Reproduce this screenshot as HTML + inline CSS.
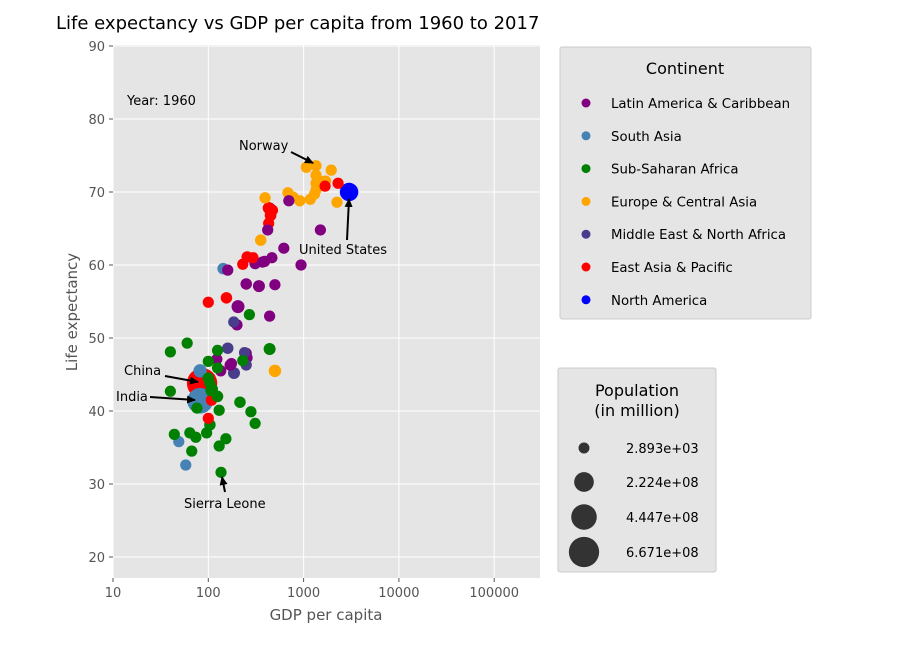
<!DOCTYPE html>
<html><head><meta charset="utf-8"><style>
body{margin:0;background:#fff;font-family:"Liberation Sans","DejaVu Sans",sans-serif}
text{font-family:"DejaVu Sans","Liberation Sans",sans-serif}
</style></head><body>
<svg id="chart" width="900" height="650" viewBox="0 0 900 650" xmlns="http://www.w3.org/2000/svg">
<rect width="900" height="650" fill="#fff"/>
<text x="56" y="29" font-size="18" fill="#000">Life expectancy vs GDP per capita from 1960 to 2017</text>
<rect x="113" y="45" width="427" height="533" fill="#e5e5e5"/>
<g id="grid"></g><g id="ticks"></g><g id="marks"></g><g id="annots"></g>
<text x="127" y="105" font-size="13" fill="#000">Year: 1960</text>
<text x="326" y="620" font-size="15" fill="#555" text-anchor="middle">GDP per capita</text>
<text x="77" y="312" font-size="15" fill="#555" text-anchor="middle" transform="rotate(-90 77 312)">Life expectancy</text>
<g id="leg1">
<rect x="560" y="47" width="251" height="272" fill="#e5e5e5" stroke="#ccc" rx="2"/>
<text x="685" y="74" font-size="16" text-anchor="middle">Continent</text>
</g>
<g id="leg2">
<rect x="558" y="368" width="158" height="204" fill="#e5e5e5" stroke="#ccc" rx="2"/>
<text x="637" y="396" font-size="16" text-anchor="middle">Population</text>
<text x="637" y="416" font-size="16" text-anchor="middle">(in million)</text>
</g>
</svg>
<script>
const continents=["Latin America & Caribbean","South Asia","Sub-Saharan Africa","Europe & Central Asia","Middle East & North Africa","East Asia & Pacific","North America"];
const colors=["purple","steelblue","green","orange","darkslateblue","red","blue"];
const xTicks=[10,100,1000,10000,100000];
const xTickLabels=["10","100","1000","10000","100000"];
const yTicks=[20,30,40,50,60,70,80,90];
const popLegend=[0.002893,222.4,444.7,667.1];
const popLegendLabels=["2.893e+03","2.224e+08","4.447e+08","6.671e+08"];
const cont=[3,3,3,3,3,3,3,3,3,3,3,3,3,3,3,3,3,
5,5,5,5,5,5,5,5,5,5,5,5,5,
0,0,0,0,0,0,0,0,0,0,0,0,0,0,0,0,0,0,0,0,0,0,0,
4,4,4,4,4,
1,1,1,1,
2,2,2,2,2,2,2,2,2,2,2,2,2,2,2,2,2,2,2,2,2,2,2,2,2,2,2,2,
5,1,6];
const gdp=[394,685,776,912,1070,1175,1350,1350,1350,1350,1300,1550,1950,1700,2240,355,500,
100,155,230,256,295,430,470,450,430,1680,2300,108,100,
420,440,700,1500,160,310,370,390,465,620,940,250,340,500,205,200,440,123,170,250,175,255,135,
185,160,240,250,186,
143,82,49,58,
40,60,100,125,125,230,440,270,40,104,76,130,215,280,310,44,64,74,96,104,153,130,67,136,100,110,125,107,
86,82,3000];
const life=[69.2,69.9,69.3,68.8,73.4,69,73.6,72.3,71.2,70.3,69.7,71.4,73,71.5,68.6,63.4,45.5,
54.9,55.5,60.1,61.1,61,67.8,67.5,66.8,65.7,70.8,71.2,41.5,39,
64.8,67.7,68.8,64.8,59.3,60.2,60.4,60.5,61,62.3,60,57.4,57.1,57.3,54.3,51.8,53,47.1,46.3,47.9,46.5,47.3,45.5,
52.2,48.6,48,46.3,45.2,
59.5,45.5,35.8,32.6,
48.1,49.3,46.8,48.3,45.9,46.9,48.5,53.2,42.7,43.8,40.4,40.1,41.2,39.9,38.3,36.8,37,36.4,37,38.1,36.2,35.2,34.5,31.6,44.5,43,42,42.8,
43.8,41.4,70];
const pop=[7,5,5,8,8,5,5,5,5,5,5,10,5,5,5,10,30,
5,10,5,10,5,20,10,15,5,5,5,10,5,
5,30,5,5,5,10,5,5,5,5,5,10,20,5,40,5,5,5,10,5,5,5,5,
5,10,5,5,20,
10,50,5,5,
5,5,5,5,5,5,20,5,5,5,5,5,10,5,5,5,5,5,5,10,5,5,5,5,10,10,10,10,
667,450,186];
const NS="http://www.w3.org/2000/svg";
const X0=113,X1=540,Y0=45,Y1=578;
const xs=v=>113+(Math.log10(v)-1)*95.3;
const ys=v=>46+(90-v)*7.3;
const rad=p=>Math.sqrt(30+p*0.3);
function mk(tag,attrs,parent){const e=document.createElementNS(NS,tag);for(const k in attrs)e.setAttribute(k,attrs[k]);parent.appendChild(e);return e;}
const grid=document.getElementById('grid'),ticks=document.getElementById('ticks');
xTicks.forEach((t,i)=>{const x=xs(t);
const g=mk('line',{x1:x,x2:x,y1:Y0,y2:Y1,stroke:'#fff','stroke-width':1},grid);


mk('line',{x1:x,x2:x,y1:Y1,y2:Y1+4,stroke:'#555'},ticks);
const tx=mk('text',{x:x,y:Y1+19,'font-size':13,fill:'#555','text-anchor':'middle'},ticks);tx.textContent=xTickLabels[i];

});
yTicks.forEach(t=>{const y=ys(t);
const g=mk('line',{x1:X0,x2:X1,y1:y,y2:y,stroke:'#fff','stroke-width':1},grid);


mk('line',{x1:X0-4,x2:X0,y1:y,y2:y,stroke:'#555'},ticks);
const tx=mk('text',{x:X0-8,y:y+5,'font-size':13,fill:'#555','text-anchor':'end'},ticks);tx.textContent=t;

});
const marks=document.getElementById('marks');
const order=gdp.map((_,i)=>i).sort((a,b)=>pop[b]-pop[a]);
order.forEach(i=>{const c=mk('circle',{cx:xs(gdp[i]),cy:ys(life[i]),r:rad(pop[i]),fill:colors[cont[i]]},marks);

});
const an=document.getElementById('annots');
mk('defs',{},an).innerHTML='<marker id="ah" markerUnits="userSpaceOnUse" markerWidth="9" markerHeight="8" refX="8" refY="4" orient="auto"><path d="M0,0L9,4L0,8z" fill="#000"/></marker>';
const notes=[["Norway",239,150,291,152,313,163],["United States",299,254,347,240,349,199],["China",124,375,165,376,198,382],["India",116,401,150,397,195,400],["Sierra Leone",184,508,225,492,222,477]];
notes.forEach(n=>{const t=mk('text',{x:n[1],y:n[2],'font-size':13},an);t.textContent=n[0];


const l=mk('line',{x1:n[3],y1:n[4],x2:n[5],y2:n[6],stroke:'#000','stroke-width':2,'marker-end':'url(#ah)'},an);

});
const l1=document.getElementById('leg1');
continents.forEach((c,i)=>{const y=103+i*32.8;
const m=mk('circle',{cx:586,cy:y,r:4.5,fill:colors[i]},l1);


const t=mk('text',{x:611,y:y+5,'font-size':13.3},l1);t.textContent=c;

});
const l2=document.getElementById('leg2');
const py=[448,482,517,552];
popLegend.forEach((p,i)=>{const m=mk('circle',{cx:584,cy:py[i],r:rad(p),fill:'#333'},l2);


const t=mk('text',{x:626,y:py[i]+5,'font-size':13},l2);t.textContent=popLegendLabels[i];

});
</script>
</body></html>
